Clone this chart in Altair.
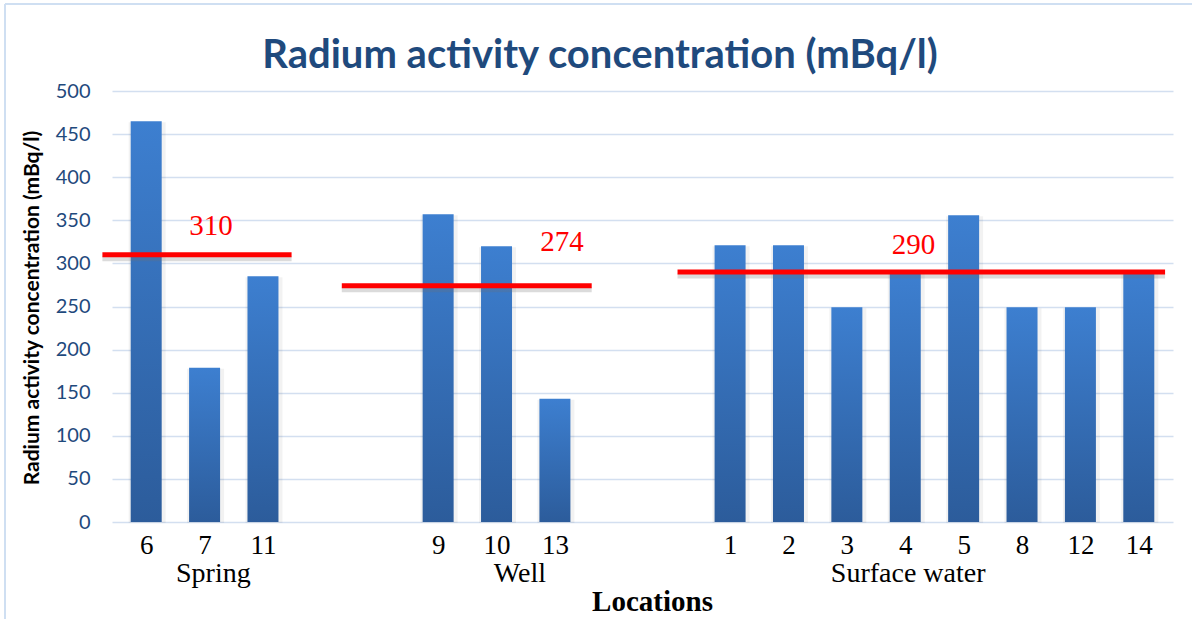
import altair as alt
import pandas as pd

# Sampling locations, their water source and measured radium activity (mBq/l)
locations = ["6", "7", "11", "9", "10", "13", "1", "2", "3", "4", "5", "8", "12", "14"]
sources = ["Spring"] * 3 + ["Well"] * 3 + ["Surface water"] * 8
radium = [465, 179, 285, 357, 320, 143, 321, 321, 249, 289, 356, 249, 249, 289]

# Average per source, drawn as a red line across the group
group_names = ["Spring", "Well", "Surface water"]
group_means = [310, 274, 290]

# Annotation placement, in category-slot units along x (and mBq/l for label height)
mean_line_start = [-0.75, 3.35, 9.1]
mean_line_end = [2.49, 7.63, 17.45]
mean_label_x = [1.11, 7.12, 13.14]
mean_label_y = [333, 314, 311]
group_label_x = [1.15, 6.4, 13.05]

GAP = 2  # empty category slots between groups

# Assign each bar to a slot, leaving gaps between the source groups
slots = []
slot = 0
prev = None
for src in sources:
    if prev is not None and src != prev:
        slot += GAP
    slots.append(slot)
    slot += 1
    prev = src
n_slots = slot

bars = pd.DataFrame({"slot": slots, "location": locations, "source": sources, "radium": radium})
means = pd.DataFrame({
    "source": group_names, "mean": group_means,
    "x0": mean_line_start, "x1": mean_line_end,
    "lx": mean_label_x, "ly": mean_label_y,
    "gx": group_label_x,
})
means["label"] = means["mean"].astype(str)

W, H = 1061, 431
PAD = {"left": 112, "top": 91, "right": 19, "bottom": 97}

tick_names = [""] * n_slots
for s, loc in zip(slots, locations):
    tick_names[s] = loc
label_expr = "[" + ",".join(f"'{t}'" for t in tick_names) + "][datum.value]"

x_scale = alt.Scale(domain=[-0.5, n_slots - 0.5], nice=False, zero=False)
y_scale = alt.Scale(domain=[0, 500], nice=False)

x_axis = alt.Axis(
    values=slots, labelExpr=label_expr, grid=False, ticks=False, domain=False,
    labelFont="Liberation Serif", labelFontSize=27, labelColor="black", labelPadding=10,
    title="Locations", titleFont="Liberation Serif", titleFontSize=29, titleFontWeight="bold",
    titleColor="black", titleX=540, titleY=88, titleBaseline="alphabetic", titleAnchor="start",
    titleAlign="center",
)
y_axis = alt.Axis(
    values=list(range(0, 501, 50)), grid=True, gridColor="#d3dff0", gridWidth=1.5,
    ticks=False, domain=False, labelFont="Lato", labelFontSize=20, labelColor="#1f4a7d",
    labelPadding=22,
    title="Radium activity concentration (mBq/l)", titleFont="Lato", titleFontSize=21,
    titleFontWeight="bold", titleColor="black", titleX=-80, titleY=H / 2 + 1,
    titleAngle=270, titleAlign="center", titleBaseline="middle",
)

bar_fill = alt.Gradient(
    gradient="linear",
    stops=[alt.GradientStop(color="#3d7fd0", offset=0),
           alt.GradientStop(color="#2c5c9b", offset=1)],
    x1=0, x2=0, y1=0, y2=1,
)

base = alt.Chart(bars)

bar_shadow = base.mark_bar(size=37, color="#000000", opacity=0.05, xOffset=1, yOffset=1).encode(
    x=alt.X("slot:Q", scale=x_scale, axis=x_axis),
    y=alt.Y("radium:Q", scale=y_scale, axis=y_axis),
)
bar_layer = base.mark_bar(size=31, fill=bar_fill).encode(
    x=alt.X("slot:Q", scale=x_scale),
    y=alt.Y("radium:Q", scale=y_scale),
)

mbase = alt.Chart(means)
line_shadow = mbase.mark_rule(color="#707070", strokeWidth=5, opacity=0.25, yOffset=4).encode(
    x="x0:Q", x2="x1:Q", y="mean:Q"
)
mean_lines = mbase.mark_rule(color="#ff0000", strokeWidth=5).encode(
    x="x0:Q", x2="x1:Q", y="mean:Q"
)
mean_labels = mbase.mark_text(
    font="Liberation Serif", fontSize=29, color="#ff0000", baseline="alphabetic", align="center"
).encode(x="lx:Q", y="ly:Q", text="label:N")

group_labels = mbase.mark_text(
    font="Liberation Serif", fontSize=28, color="black", baseline="alphabetic", align="center"
).encode(x="gx:Q", y=alt.value(H + 60), text="source:N")

frame_df = pd.DataFrame({"k": [0]})
frame = alt.Chart(frame_df)
frame_left = frame.mark_rule(color="#cfdff2", strokeWidth=2).encode(
    x=alt.value(-PAD["left"] + 5), y=alt.value(-PAD["top"] + 4), y2=alt.value(H + PAD["bottom"] + 10)
)
frame_top = frame.mark_rule(color="#cfdff2", strokeWidth=2).encode(
    x=alt.value(-PAD["left"] + 5), x2=alt.value(W + PAD["right"] + 10), y=alt.value(-PAD["top"] + 4)
)
title = frame.mark_text(
    text="Radium activity concentration (mBq/l)", font="Lato", fontSize=40, fontWeight="bold",
    color="#1f4a7d", align="center", baseline="alphabetic",
).encode(x=alt.value(600 - PAD["left"]), y=alt.value(68 - PAD["top"]))

chart = alt.layer(
    frame_left, frame_top, title,
    bar_shadow, bar_layer, line_shadow, mean_lines, mean_labels, group_labels,
).properties(
    width=W, height=H, padding=PAD, autosize=alt.AutoSizeParams(type="none"),
    background="white",
).configure_view(stroke=None)

chart.save("out.html", embed_options={"renderer": "svg", "actions": False})
